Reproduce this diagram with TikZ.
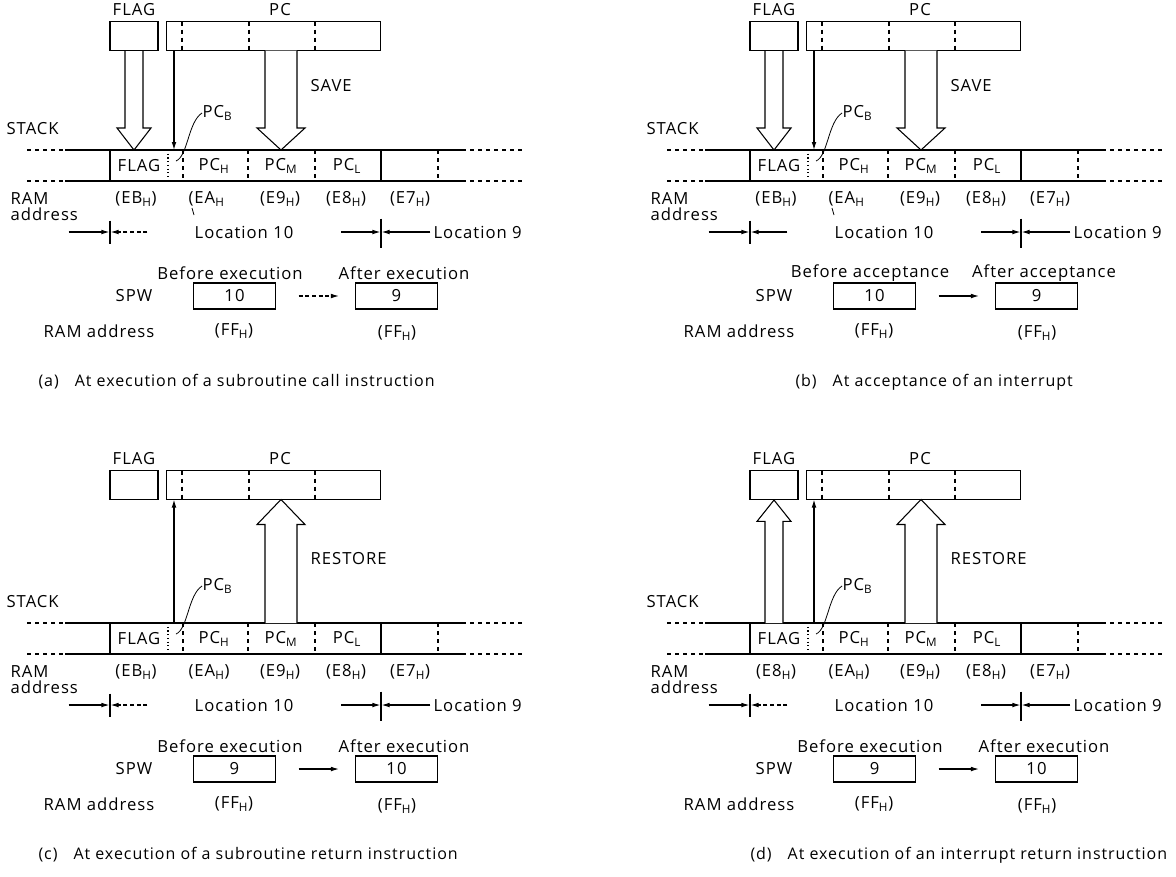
\documentclass[tikz,border=0pt]{standalone}
\usepackage{fontspec}
\setmainfont{Open Sans}[LetterSpace=6]
\usetikzlibrary{arrows.meta}
\usetikzlibrary{calc}
\newcommand{\idx}[1]{\textsubscript{#1}}
\tikzset{
  lbl/.style={inner sep=0pt},
  caplbl/.style={inner sep=0pt, anchor=west, font=\fontsize{12}{14}\selectfont},
  regbox/.style={draw, inner sep=0pt, minimum height=21.75pt},
  spwbox/.style={draw, inner sep=0pt, minimum width=61.5pt, minimum height=19.5pt},
  thinarrow/.style={-{Latex[length=6pt,width=3.5pt]}}
}
% hollow block arrow: from, to, shaft half width, head half width, signed head length
\newcommand{\hollowarrow}[5]{%
  \draw[fill=white] let \p1=#1, \p2=#2 in
    ({\x1-#3},\y1) -- ({\x1-#3},{\y2+(#5)}) -- ({\x1-#4},{\y2+(#5)}) -- (\x2,\y2)
    -- ({\x1+#4},{\y2+(#5)}) -- ({\x1+#3},{\y2+(#5)}) -- ({\x1+#3},\y1);}
% FLAG and PC registers
\newcommand{\registers}{%
  \node[lbl] (flaglbl) at (134,10) {FLAG};
  \node[lbl] (pclbl) at (280,10) {PC};
  \node[regbox, minimum width=36pt] (flagreg) at (134,36) {};
  \node[regbox, minimum width=160.5pt] (pcreg) at (273.5,36) {};
  \foreach \x in {182,249,315} \draw[dashed] (\x,21.5) -- (\x,50.5);
  \coordinate (pcbreg) at (174,50.5);
  \coordinate (pcmreg) at (281,50.5);
}
% one stack panel: before, after, old SPW, new SPW, first address, second address,
% style of the location arrow, style of the SPW arrow
\newcommand{\stackframe}[8]{%
  \node[lbl, anchor=west] (stacklbl) at (6,129) {STACK};
  \foreach \y in {150,181} {
    \draw[dashed] (27,\y) -- (65,\y);
    \draw (65,\y) -- (462,\y);
    \draw[dashed] (462,\y) -- (522,\y);
  }
  \foreach \x in {110,381} \draw (\x,150) -- (\x,181);
  \draw[dotted] (168,150) -- (168,181);
  \foreach \x in {183,248,315,438} \draw[dashed] (\x,150) -- (\x,181);
  \coordinate (flagstk) at (134,150);
  \coordinate (pcbstk) at (174,150);
  \coordinate (pcmstk) at (281,150);
  \node[lbl] (sflag) at (139,166) {FLAG};
  \node[lbl] (spch) at (214,166) {PC\idx{H}};
  \node[lbl] (spcm) at (281,166) {PC\idx{M}};
  \node[lbl] (spcl) at (347,166) {PC\idx{L}};
  \node[lbl, anchor=west] (pcblbl) at (202,113) {PC\idx{B}};
  \draw[line width=0.6pt] (176,161) .. controls (188,156) and (188,122) .. (pcblbl.west);
  % RAM addresses
  \node[lbl, anchor=west] (ramlbl) at (10,199) {RAM};
  \node[lbl, anchor=west] (addrlbl) at (10,214) {address};
  \node[lbl] (adeb) at (136,199) {#5};
  \node[lbl, anchor=west] (adea) at (188,199) {#6};
  \node[lbl] (ade9) at (280,199) {(E9\idx{H})};
  \node[lbl] (ade8) at (346,199) {(E8\idx{H})};
  \node[lbl] (ade7) at (410,199) {(E7\idx{H})};
  % locations
  \coordinate (tickA) at (110,232);
  \coordinate (tickB) at (381,232);
  \draw ([yshift=8.5pt]tickA) -- ([yshift=-9pt]tickA);
  \draw ([yshift=10pt]tickB) -- ([yshift=-12pt]tickB);
  \draw[thinarrow] ([xshift=-31pt]tickA) -- ([xshift=-0.4pt]tickA);
  \draw[thinarrow, #7] ([xshift=28pt]tickA) -- ([xshift=0.4pt]tickA);
  \draw[thinarrow] ([xshift=-30pt]tickB) -- ([xshift=-0.4pt]tickB);
  \draw[thinarrow] ([xshift=37pt]tickB) -- ([xshift=0.4pt]tickB);
  \node[lbl] (loc10) at (244,232) {Location 10};
  \node[lbl, anchor=west] (loc9) at (433,232) {Location 9};
  % stack pointer word
  \node[lbl] (beforelbl) at (230,273) {#1};
  \node[lbl] (afterlbl) at (404,273) {#2};
  \node[lbl] (spwlbl) at (134,296) {SPW};
  \node[spwbox] (spwold) at (234.5,296) {#3};
  \node[spwbox] (spwnew) at (396.5,296) {#4};
  \draw[thinarrow, #8] ([xshift=17pt]spwold.east) -- ([xshift=-12pt]spwnew.west);
  \node[lbl] (ramaddr) at (99,331) {RAM address};
  \node[lbl] (ffold) at (234,331) {(FF\idx{H})};
  \node[lbl] (ffnew) at (397,333) {(FF\idx{H})};
}

\begin{document}
\begin{tikzpicture}[x=0.75pt, y=-0.75pt, line width=0.8pt, font=\fontsize{12.5}{14}\selectfont]
\useasboundingbox (0,0) rectangle (1176,876);

% (a) subroutine call
\begin{scope}[name prefix=a-]
  \registers
  \stackframe{Before execution}{After execution}{10}{9}{(EB\idx{H})}{(EA\idx{H}}{densely dashed}{densely dashed}
  \draw[line width=0.6pt] (192,208) -- (194,215);
  \hollowarrow{(flagreg.south)}{(flagstk)}{6.75pt}{12.75pt}{16.5pt}
  \hollowarrow{(pcmreg)}{(pcmstk)}{12pt}{18pt}{16.5pt}
  \draw[thinarrow] (pcbreg) -- (pcbstk);
  \node[lbl, anchor=west] (save) at (310,86) {SAVE};
  \node[caplbl] (cap) at (38,382) {(a)\hspace{12pt}At execution of a subroutine call instruction};
\end{scope}

% (b) interrupt acceptance
\begin{scope}[shift={(640,0)}, name prefix=b-]
  \registers
  \stackframe{Before acceptance}{After acceptance}{10}{9}{(EB\idx{H})}{(EA\idx{H}}{solid}{solid}
  \draw[line width=0.6pt] (192,208) -- (194,215);
  \hollowarrow{(flagreg.south)}{(flagstk)}{6.75pt}{12.75pt}{16.5pt}
  \hollowarrow{(pcmreg)}{(pcmstk)}{12pt}{18pt}{16.5pt}
  \draw[thinarrow] (pcbreg) -- (pcbstk);
  \node[lbl, anchor=west] (save) at (310,86) {SAVE};
  \node[caplbl] (cap) at (155,382) {(b)\hspace{12pt}At acceptance of an interrupt};
\end{scope}

% (c) subroutine return
\begin{scope}[shift={(0,473)}, name prefix=c-]
  \begin{scope}[shift={(0,-24)}]
    \registers
  \end{scope}
  \stackframe{Before execution}{After execution}{9}{10}{(EB\idx{H})}{(EA\idx{H})}{densely dashed}{solid}
  \hollowarrow{(pcmstk)}{(pcmreg)}{12pt}{18pt}{-18.75pt}
  \draw[thinarrow] (pcbstk) -- (pcbreg);
  \node[lbl, anchor=west] (restore) at (310,86) {RESTORE};
  \node[caplbl] (cap) at (38,382) {(c)\hspace{12pt}At execution of a subroutine return instruction};
\end{scope}

% (d) interrupt return
\begin{scope}[shift={(640,473)}, name prefix=d-]
  \begin{scope}[shift={(0,-24)}]
    \registers
  \end{scope}
  \stackframe{Before execution}{After execution}{9}{10}{(E8\idx{H})}{(EA\idx{H})}{densely dashed}{solid}
  \hollowarrow{(flagstk)}{(flagreg.south)}{6.75pt}{12.75pt}{-16pt}
  \hollowarrow{(pcmstk)}{(pcmreg)}{12pt}{18pt}{-18.75pt}
  \draw[thinarrow] (pcbstk) -- (pcbreg);
  \node[lbl, anchor=west] (restore) at (310,86) {RESTORE};
  \node[caplbl] (cap) at (110,382) {(d)\hspace{12pt}At execution of an interrupt return instruction};
\end{scope}
\end{tikzpicture}
\end{document}
